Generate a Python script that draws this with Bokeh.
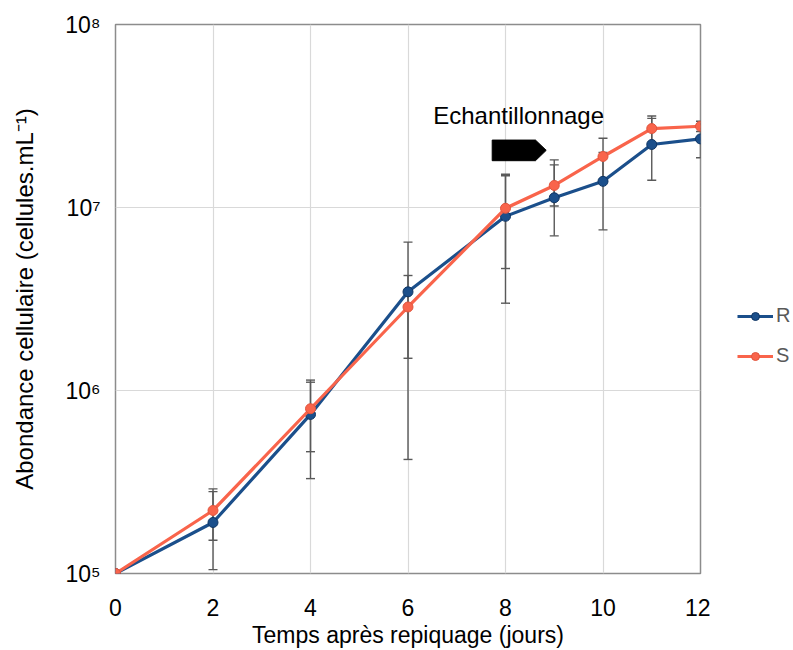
from bokeh.plotting import figure
from bokeh.layouts import row
from bokeh.models import (Range1d, FixedTicker, Whisker, ColumnDataSource, Legend,
                          LegendItem, Label, TeeHead)
from bokeh.embed import file_html
from bokeh.resources import INLINE

# ---------------- data ----------------
days = [0, 2, 4, 6, 8, 9, 10, 11, 12]
r_values = [1.0e5, 1.9e5, 7.4e5, 3.46e6, 8.95e6, 1.13e7, 1.39e7, 2.21e7, 2.37e7]
s_values = [1.0e5, 2.21e5, 7.95e5, 2.86e6, 9.9e6, 1.32e7, 1.90e7, 2.70e7, 2.78e7]
r_lower = [1.0e5, 1.05e5, 3.3e5, 4.2e5, 3.0e6, 7.0e6, 7.55e6, 1.41e7, 1.87e7]
r_upper = [1.0e5, 2.8e5, 1.14e6, 6.47e6, 1.49e7, 1.82e7, 2.0e7, 3.07e7, 2.87e7]
s_lower = [1.0e5, 1.52e5, 4.63e5, 1.5e6, 4.64e6, 1.02e7, 1.41e7, 2.24e7, 2.6e7]
s_upper = [1.0e5, 2.9e5, 1.11e6, 4.25e6, 1.52e7, 1.71e7, 2.39e7, 3.16e7, 2.96e7]

series_names = ["R", "S"]
x_ticks = [0, 2, 4, 6, 8, 10, 12]
y_ticks = [1e5, 1e6, 1e7, 1e8]
y_tick_labels = ["10\u2075", "10\u2076", "10\u2077", "10\u2078"]

sampling_label = "Echantillonnage"
sampling_label_pos = (8.27, 3.2e7)
sampling_arrow_x = [7.727, 8.615, 8.835, 8.615, 7.727]
sampling_arrow_y = [1.802e7, 1.802e7, 2.053e7, 2.336e7, 2.336e7]

R_COLOR = "#1b4f8b"
S_COLOR = "#f9644b"
R_EDGE = "#0f3563"
S_EDGE = "#e0553e"
FONT = "Liberation Sans"
H = 650

p = figure(width=710, height=H, output_backend="svg", toolbar_location=None,
           y_axis_type="log", x_range=Range1d(0, 12), y_range=Range1d(1e5, 1e8),
           min_border_left=115, min_border_right=10, min_border_top=24,
           min_border_bottom=75)
p.background_fill_color = "white"
p.border_fill_color = "white"
p.outline_line_color = "#8c8c8c"
p.outline_line_width = 1.5

p.xaxis.ticker = FixedTicker(ticks=x_ticks)
p.yaxis.ticker = FixedTicker(ticks=y_ticks, minor_ticks=[])
p.yaxis.major_label_overrides = {float(t): l for t, l in zip(y_ticks, y_tick_labels)}
for ax in (p.xaxis[0], p.yaxis[0]):
    ax.axis_line_color = None
    ax.major_tick_line_color = None
    ax.minor_tick_line_color = None
    ax.major_label_text_font = FONT
    ax.major_label_text_font_size = "23px"
    ax.major_label_text_color = "black"
    ax.axis_label_text_font = FONT
    ax.axis_label_text_font_size = "23px"
    ax.axis_label_text_font_style = "normal"
    ax.axis_label_text_color = "black"
p.yaxis.axis_label_text_font_size = "24px"
p.xaxis.axis_label = "Temps apr\u00e8s repiquage (jours)"
p.yaxis.axis_label = "Abondance cellulaire (cellules.mL\u207b\u00b9)"
p.xaxis.major_label_standoff = 19
p.xaxis.axis_label_standoff = 3
p.yaxis.major_label_standoff = 9
p.yaxis.axis_label_standoff = 24

p.xgrid.grid_line_color = "#d9d9d9"
p.ygrid.grid_line_color = "#d9d9d9"
p.xgrid.grid_line_width = 1.2
p.ygrid.grid_line_width = 1.2

# error bars
for lo, hi in ((r_lower, r_upper), (s_lower, s_upper)):
    src = ColumnDataSource(dict(x=days[1:], lower=lo[1:], upper=hi[1:]))
    w = Whisker(source=src, base="x", lower="lower", upper="upper",
                line_color="#595959", line_width=1.4, level="underlay",
                upper_head=TeeHead(size=9, line_color="#595959", line_width=1.4),
                lower_head=TeeHead(size=9, line_color="#595959", line_width=1.4))
    p.add_layout(w)

p.line(days, r_values, line_color=R_COLOR, line_width=3.2)
p.scatter(days, r_values, size=10, fill_color=R_COLOR, line_color=R_EDGE, line_width=1)
p.line(days, s_values, line_color=S_COLOR, line_width=3.2)
p.scatter(days, s_values, size=10, fill_color=S_COLOR, line_color=S_EDGE, line_width=1)

# sampling annotation
p.patch(sampling_arrow_x, sampling_arrow_y, fill_color="black", line_color="black")
p.add_layout(Label(x=sampling_label_pos[0], y=sampling_label_pos[1], text=sampling_label,
                   text_align="center", text_baseline="middle", text_font=FONT,
                   text_font_size="24px", text_color="black"))

# legend panel (to the right of the plot area); its renderers carry the same
# series but fall outside this panel's ranges, so only the legend shows
lg = figure(width=83, height=H, output_backend="svg", toolbar_location=None,
            x_axis_type=None, y_axis_type=None, min_border=0,
            x_range=Range1d(0, 1), y_range=Range1d(0, 1))
lg.outline_line_color = None
lg.grid.visible = False
items = []
for name, vals, col, edge in zip(series_names, (r_values, s_values),
                                 (R_COLOR, S_COLOR), (R_EDGE, S_EDGE)):
    ln = lg.line(days, vals, line_color=col, line_width=3.2)
    sc = lg.scatter(days, vals, size=10, fill_color=col, line_color=edge, line_width=1)
    items.append(LegendItem(label=name, renderers=[ln, sc]))
legend = Legend(items=items, location=(27, 206), padding=0, margin=0, spacing=17,
                glyph_width=36, glyph_height=20, label_height=20,
                label_standoff=3, label_text_font=FONT, label_text_font_size="20px",
                label_text_color="#595959", border_line_color=None,
                background_fill_alpha=0)
lg.add_layout(legend)

layout = row(p, lg)
open("out.html", "w").write(file_html(layout, INLINE))
